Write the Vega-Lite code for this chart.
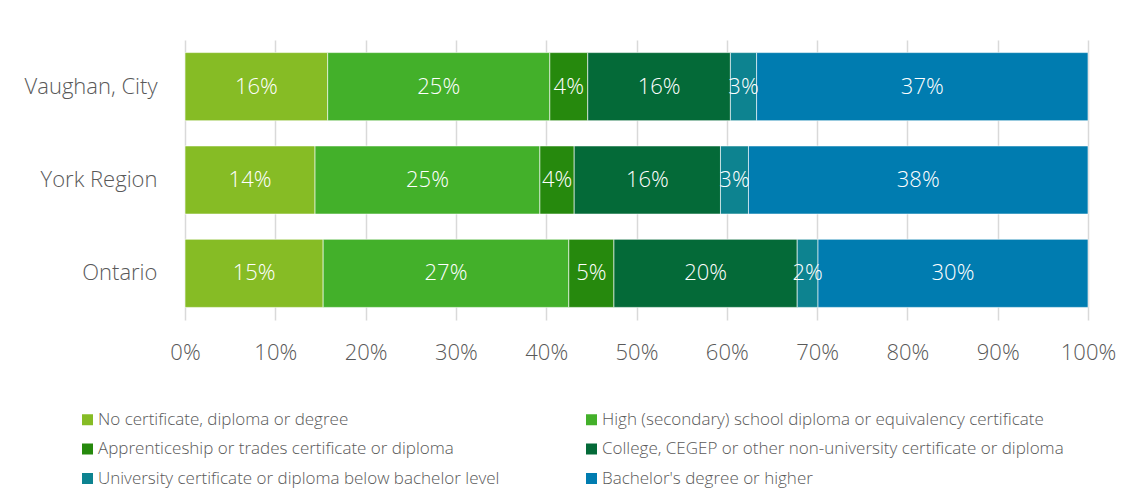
{
  "$schema": "https://vega.github.io/schema/vega-lite/v6.json",
  "autosize": "none",
  "width": 903,
  "height": 280,
  "padding": {"left": 185, "top": 40, "right": 44, "bottom": 182},
  "background": "#ffffff",
  "config": {
    "font": "Open Sans",
    "view": {"stroke": null}
  },
  "data": {
    "values": [
      {"geo": "Vaughan, City", "level": "No certificate, diploma or degree", "share": 0.158},
      {"geo": "Vaughan, City", "level": "High (secondary) school diploma or equivalency certificate", "share": 0.246},
      {"geo": "Vaughan, City", "level": "Apprenticeship or trades certificate or diploma", "share": 0.042},
      {"geo": "Vaughan, City", "level": "College, CEGEP or other non-university certificate or diploma", "share": 0.158},
      {"geo": "Vaughan, City", "level": "University certificate or diploma below bachelor level", "share": 0.029},
      {"geo": "Vaughan, City", "level": "Bachelor's degree or higher", "share": 0.367},
      {"geo": "York Region", "level": "No certificate, diploma or degree", "share": 0.144},
      {"geo": "York Region", "level": "High (secondary) school diploma or equivalency certificate", "share": 0.249},
      {"geo": "York Region", "level": "Apprenticeship or trades certificate or diploma", "share": 0.038},
      {"geo": "York Region", "level": "College, CEGEP or other non-university certificate or diploma", "share": 0.162},
      {"geo": "York Region", "level": "University certificate or diploma below bachelor level", "share": 0.031},
      {"geo": "York Region", "level": "Bachelor's degree or higher", "share": 0.376},
      {"geo": "Ontario", "level": "No certificate, diploma or degree", "share": 0.153},
      {"geo": "Ontario", "level": "High (secondary) school diploma or equivalency certificate", "share": 0.272},
      {"geo": "Ontario", "level": "Apprenticeship or trades certificate or diploma", "share": 0.050},
      {"geo": "Ontario", "level": "College, CEGEP or other non-university certificate or diploma", "share": 0.203},
      {"geo": "Ontario", "level": "University certificate or diploma below bachelor level", "share": 0.023},
      {"geo": "Ontario", "level": "Bachelor's degree or higher", "share": 0.299}
    ]
  },
  "transform": [
    {"calculate": "indexof(['No certificate, diploma or degree','High (secondary) school diploma or equivalency certificate','Apprenticeship or trades certificate or diploma','College, CEGEP or other non-university certificate or diploma','University certificate or diploma below bachelor level','Bachelor\\'s degree or higher'], datum.level)", "as": "rank"},
    {"stack": "share", "groupby": ["geo"], "sort": [{"field": "rank", "order": "ascending"}], "as": ["s0", "s1"]},
    {"calculate": "(datum.s0 + datum.s1) / 2", "as": "mid"}
  ],
  "encoding": {
    "y": {
      "field": "geo",
      "type": "nominal",
      "sort": ["Vaughan, City", "York Region", "Ontario"],
      "title": null,
      "scale": {"paddingInner": 0.27, "paddingOuter": 0.135},
      "axis": {
        "domain": false,
        "ticks": false,
        "labelPadding": 28,
        "labelFontSize": 22,
        "labelFontWeight": 300,
        "labelColor": "#595959",
        "minExtent": 175,
        "maxExtent": 175
      }
    }
  },
  "layer": [
    {
      "mark": {"type": "bar", "stroke": "#ffffff", "strokeWidth": 0.75, "strokeOpacity": 0.8},
      "encoding": {
        "x": {
          "field": "s0",
          "type": "quantitative",
          "scale": {"domain": [0, 1], "nice": false},
          "title": null,
          "axis": {
            "format": ".0%",
            "values": [0, 0.1, 0.2, 0.3, 0.4, 0.5, 0.6, 0.7, 0.8, 0.9, 1],
            "domain": false,
            "ticks": false,
            "grid": true,
            "gridColor": "#d9d9d9",
            "gridWidth": 1.5,
            "labelFlush": false,
            "labelPadding": 22,
            "labelFontSize": 22,
            "labelFontWeight": 300,
            "labelColor": "#595959"
          }
        },
        "x2": {"field": "s1"},
        "color": {
          "field": "level",
          "type": "nominal",
          "sort": [
            "No certificate, diploma or degree",
            "High (secondary) school diploma or equivalency certificate",
            "Apprenticeship or trades certificate or diploma",
            "College, CEGEP or other non-university certificate or diploma",
            "University certificate or diploma below bachelor level",
            "Bachelor's degree or higher"
          ],
          "scale": {
            "range": ["#86bc25", "#43b02a", "#26890d", "#046a38", "#0d8390", "#007cb0"]
          },
          "legend": {
            "title": null,
            "orient": "none",
            "legendX": -106,
            "legendY": 371,
            "direction": "horizontal",
            "columns": 2,
            "columnPadding": 83,
            "rowPadding": 11.5,
            "symbolType": "square",
            "symbolSize": 121,
            "symbolStrokeWidth": 0,
            "symbolOpacity": 1,
            "labelOffset": 2,
            "labelFontSize": 17,
            "labelFontWeight": 300,
            "labelColor": "#595959",
            "labelLimit": 600
          }
        },
        "order": {"field": "rank", "type": "quantitative"}
      }
    },
    {
      "mark": {"type": "text", "color": "#ffffff", "fontSize": 22, "fontWeight": 300, "baseline": "middle", "align": "center"},
      "encoding": {
        "x": {"field": "mid", "type": "quantitative"},
        "text": {"field": "share", "type": "quantitative", "format": ".0%"}
      }
    }
  ]
}
